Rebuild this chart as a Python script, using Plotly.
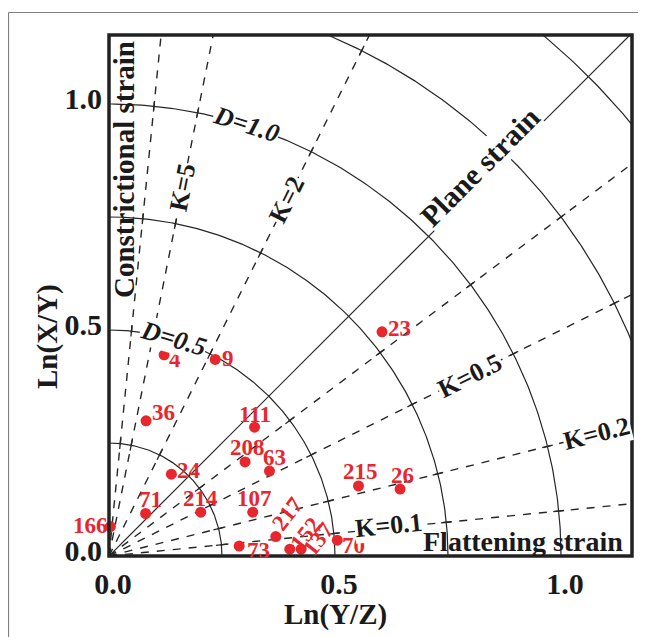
import numpy as np
import plotly.graph_objects as go

# ---------------- data ----------------
SAMPLE_LABELS = ["4", "9", "36", "111", "208", "63", "24", "71", "214", "107",
                 "73", "217", "152", "137", "70", "215", "26", "23", "166"]
LN_YZ = [0.122, 0.235, 0.082, 0.322, 0.301, 0.355, 0.138, 0.081, 0.203, 0.318,
         0.288, 0.369, 0.400, 0.425, 0.505, 0.552, 0.644, 0.604, 0.003]
LN_XY = [0.445, 0.435, 0.299, 0.285, 0.208, 0.188, 0.181, 0.094, 0.097, 0.097,
         0.022, 0.043, 0.015, 0.015, 0.035, 0.155, 0.148, 0.496, 0.065]
LABEL_DX = [11, 13, 17, 0, 2, 5, 18, 5, 0, 2, 19, 12, 16, 17, 16, 2, 2, 17, -20]
LABEL_DY = [-5, 1, 8, 13, 14, 14, 4, 14, 14, 14, -4, 23, 16, 10, -5, 14, 14, 3, 1]
LABEL_ANGLE = [0, 0, 0, 0, 0, 0, 0, 0, 0, 0, 0, -52, -52, -52, 0, 0, 0, 0, 0]

D_VALUES = [0.25, 0.5, 0.75, 1.0, 1.25, 1.5]
K_VALUES = [0.1, 0.25, 0.5, 0.75, 2, 5, 10]
PLANE_K = 1.0

K_LABEL_TEXT = ["K=0.1", "K=0.2", "K=0.5", "K=2", "K=5"]
K_LABEL_LINE = [0.1, 0.25, 0.5, 2, 5]
K_LABEL_R = [0.622, 1.113, 0.894, 0.881, 0.831]
K_LABEL_YSHIFT = [3, 0, 0, 0, 0]

D_LABEL_TEXT = ["D=0.5", "D=1.0"]
D_LABEL_R = [0.502, 1.003]
D_LABEL_THETA = [73.5, 72.3]

X_TICKS = [0.0, 0.5, 1.0]
X_TICK_TEXT = ["0.0", "0.5", "1.0"]
Y_TICKS = [0.0, 0.5, 1.0]
Y_TICK_TEXT = ["0.0", "0.5", "1.0"]

# ---------------- styling ----------------
SERIF = "Liberation Serif, Times New Roman, serif"
RED = "#e8262d"
INK = "#1a1a1a"
BODY = 8                      # default page body margin of the html page
W, H = 646 - BODY, 637 - BODY
PLOT_W, PLOT_H = 523, 521
ML, MT = 109 - BODY, 35 - BODY
MR = W - ML - PLOT_W
MB = H - MT - PLOT_H
PX_PER_UNIT = 452.0
XMAX = PLOT_W / PX_PER_UNIT
YMAX = PLOT_H / PX_PER_UNIT
PAGE_L, PAGE_B = 109, 556     # page position of the data origin


def dx_(px):
    return (px - PAGE_L) / PX_PER_UNIT


def dy_(py):
    return (PAGE_B - py) / PX_PER_UNIT


fig = go.Figure()

# D arcs
for d in D_VALUES:
    t = np.linspace(0, np.pi / 2, 240)
    fig.add_trace(go.Scatter(x=d * np.cos(t), y=d * np.sin(t), mode="lines",
                             line=dict(color="#262626", width=1.2),
                             hoverinfo="skip", showlegend=False))

# K lines (dashed)
for k in K_VALUES:
    th = np.arctan(k)
    fig.add_trace(go.Scatter(x=[0, 2 * np.cos(th)], y=[0, 2 * np.sin(th)], mode="lines",
                             line=dict(color="#262626", width=1.4, dash="8px,8px"),
                             hoverinfo="skip", showlegend=False))

# small ticks at crossings
tx, ty = [], []
for d in D_VALUES:
    for k in K_VALUES:
        th = np.arctan(k)
        r0, r1 = d - 0.012, d + 0.012
        tx += [r0 * np.cos(th), r1 * np.cos(th), None]
        ty += [r0 * np.sin(th), r1 * np.sin(th), None]
fig.add_trace(go.Scatter(x=tx, y=ty, mode="lines", line=dict(color="#262626", width=1.3),
                         hoverinfo="skip", showlegend=False))

# plane strain line
thp = np.arctan(PLANE_K)
fig.add_trace(go.Scatter(x=[0, 2 * np.cos(thp)], y=[0, 2 * np.sin(thp)], mode="lines",
                         line=dict(color="#262626", width=1.2),
                         hoverinfo="skip", showlegend=False))

# samples
fig.add_trace(go.Scatter(x=LN_YZ, y=LN_XY, mode="markers",
                         marker=dict(color=RED, size=11), cliponaxis=False,
                         showlegend=False))

ann = []
for lab, x, y, ddx, ddy, a in zip(SAMPLE_LABELS, LN_YZ, LN_XY, LABEL_DX, LABEL_DY, LABEL_ANGLE):
    ann.append(dict(x=x, y=y, xref="x", yref="y", text="<b>%s</b>" % lab, showarrow=False,
                    xshift=ddx, yshift=ddy, textangle=a, xanchor="center", yanchor="middle",
                    font=dict(family=SERIF, size=23, color=RED)))

for txt, k, r, ys in zip(K_LABEL_TEXT, K_LABEL_LINE, K_LABEL_R, K_LABEL_YSHIFT):
    th = np.arctan(k)
    ann.append(dict(x=r * np.cos(th), y=r * np.sin(th), xref="x", yref="y",
                    text="<b>%s</b>" % txt, showarrow=False, yshift=ys,
                    textangle=-np.degrees(th), bgcolor="white", borderpad=0,
                    xanchor="center", yanchor="middle",
                    font=dict(family=SERIF, size=26, color=INK)))

for txt, r, thd in zip(D_LABEL_TEXT, D_LABEL_R, D_LABEL_THETA):
    th = np.radians(thd)
    ann.append(dict(x=r * np.cos(th), y=r * np.sin(th), xref="x", yref="y",
                    text="<b><i>%s</i></b>" % txt, showarrow=False,
                    textangle=90 - thd, bgcolor="white", borderpad=0,
                    xanchor="center", yanchor="middle",
                    font=dict(family=SERIF, size=26, color=INK)))

# strain field labels
ann.append(dict(x=dx_(480), y=dy_(166.7), xref="x", yref="y",
                text="<b>Plane strain</b>", showarrow=False, textangle=-45,
                bgcolor="white", borderpad=0, xanchor="center", yanchor="middle",
                font=dict(family=SERIF, size=30, color=INK)))
ann.append(dict(x=dx_(124), y=dy_(170), xref="x", yref="y",
                text="<b>Constrictional strain</b>", showarrow=False, textangle=-90,
                xanchor="center", yanchor="middle",
                font=dict(family=SERIF, size=29, color=INK)))
ann.append(dict(x=dx_(523), y=dy_(541), xref="x", yref="y",
                text="<b>Flattening strain</b>", showarrow=False,
                xanchor="center", yanchor="middle",
                font=dict(family=SERIF, size=28, color=INK)))

# axis titles
ann.append(dict(x=0.5, y=0, xref="paper", yref="paper",
                xshift=335 - (PAGE_L + PLOT_W / 2), yshift=-(614 - PAGE_B),
                xanchor="center", yanchor="middle",
                text="<b>Ln(Y/Z)</b>", showarrow=False,
                font=dict(family=SERIF, size=29, color=INK)))
ann.append(dict(x=0, y=0.5, xref="paper", yref="paper",
                xshift=-(PAGE_L - 47), yshift=(PAGE_B - PLOT_H / 2) - 337,
                xanchor="center", yanchor="middle",
                text="<b>Ln(X/Y)</b>", showarrow=False, textangle=-90,
                font=dict(family=SERIF, size=29, color=INK)))

# outer thin border of the figure (page coords 8.5, 12.5)
bx = (8.5 - PAGE_L) / PLOT_W
by = (PAGE_B - 12.5) / PLOT_H
shapes = [
    dict(type="rect", xref="paper", yref="paper", x0=0, y0=0, x1=1, y1=1,
         line=dict(color="#222222", width=3.5), layer="above"),
    dict(type="line", xref="paper", yref="paper", x0=bx, x1=1.3, y0=by, y1=by,
         line=dict(color="#808080", width=1.2)),
    dict(type="line", xref="paper", yref="paper", x0=bx, x1=bx, y0=by, y1=-0.3,
         line=dict(color="#808080", width=1.2)),
]

fig.update_layout(
    width=W, height=H,
    margin=dict(l=ML, r=MR, t=MT, b=MB),
    plot_bgcolor="white", paper_bgcolor="white",
    annotations=ann, shapes=shapes,
    xaxis=dict(range=[0, XMAX], showgrid=False, zeroline=False, showline=False,
               tickvals=X_TICKS, ticktext=["<b>%s</b>" % t for t in X_TICK_TEXT], ticks="",
               ticklabelstandoff=7, ticklabelshift=4,
               tickfont=dict(family=SERIF, size=30, color=INK)),
    yaxis=dict(range=[0, YMAX], showgrid=False, zeroline=False, showline=False,
               tickvals=Y_TICKS, ticktext=["<b>%s</b>" % t for t in Y_TICK_TEXT], ticks="",
               ticklabelstandoff=6, ticklabelshift=-6,
               tickfont=dict(family=SERIF, size=30, color=INK)),
)

fig.write_html("out.html")
